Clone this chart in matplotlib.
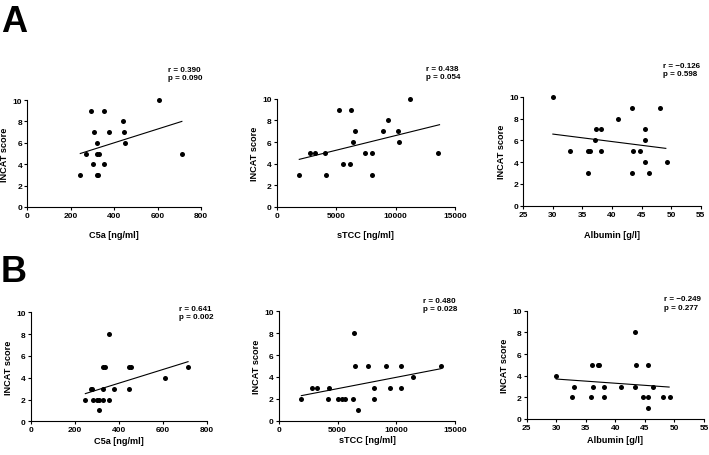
import numpy as np
import matplotlib
matplotlib.use("Agg")
import matplotlib.pyplot as plt

plt.rcParams['font.family'] = ['Liberation Sans', 'DejaVu Sans']
plt.rcParams['font.weight'] = 'bold'

# C5a vs INCAT (A: baseline, B: follow-up)
c5a_a_x = [245, 292, 271, 302, 309, 323, 320, 331, 323, 328, 355, 352, 375, 442, 448, 451, 608, 712]
c5a_a_y = [3, 9, 5, 4, 7, 6, 5, 5, 3, 3, 9, 4, 7, 8, 7, 6, 10, 5]
c5a_b_x = [248, 272, 276, 281, 299, 309, 309, 326, 326, 329, 338, 356, 356, 377, 444, 447, 453, 608, 714]
c5a_b_y = [2, 3, 3, 2, 2, 2, 1, 2, 5, 3, 5, 2, 8, 3, 3, 5, 5, 4, 5]

# sTCC vs INCAT
stcc_a_x = [1850, 2800, 3200, 4070, 4180, 5240, 5580, 6170, 6280, 6390, 6620, 7460, 7990, 7990,
            8940, 9340, 10230, 10290, 11240, 13540]
stcc_a_y = [3, 5, 5, 5, 3, 9, 4, 4, 9, 6, 7, 5, 5, 3, 7, 8, 7, 6, 10, 5]
stcc_b_x = [1925, 2830, 3280, 4160, 4270, 5040, 5380, 5660, 6280, 6400, 6510, 6760, 7610, 8120,
            8120, 9090, 9480, 10420, 10420, 11380, 13760]
stcc_b_y = [2, 3, 3, 2, 3, 2, 2, 2, 2, 8, 5, 1, 5, 3, 2, 5, 3, 5, 3, 4, 5]

# Albumin vs INCAT
alb_a_x = [30.0, 32.95, 36.0, 36.3, 36.0, 37.1, 37.3, 38.2, 38.2, 41.0, 43.4, 43.3, 43.6, 44.7,
           45.5, 45.5, 45.6, 46.3, 48.1, 49.3]
alb_a_y = [10, 5, 5, 5, 3, 6, 7, 7, 5, 8, 9, 3, 5, 5, 7, 6, 4, 3, 9, 4]
alb_b_x = [29.96, 32.7, 32.95, 35.9, 36.05, 36.3, 37.0, 37.2, 38.1, 38.1, 41.0, 43.3, 43.4, 43.55,
           44.7, 45.5, 45.5, 45.5, 46.3, 48.1, 49.2]
alb_b_y = [4, 2, 3, 2, 5, 3, 5, 5, 3, 2, 3, 3, 8, 5, 2, 5, 2, 1, 3, 2, 2]

# regression line end points
fit_c5a_a = ([245, 712], [5.0, 8.0])
fit_c5a_b = ([248, 714], [2.54, 5.47])
fit_stcc_a = ([1900, 13700], [4.4, 7.6])
fit_stcc_b = ([1925, 13760], [2.29, 4.75])
fit_alb_a = ([30.0, 49.1], [6.57, 5.26])
fit_alb_b = ([30.0, 49.1], [3.69, 2.95])

stats = ["r = 0.390\np = 0.090", "r = 0.438\np = 0.054", "r = \u22120.126\np = 0.598",
         "r = 0.641\np = 0.002", "r = 0.480\np = 0.028", "r = \u22120.249\np = 0.277"]
xlabels = ["C5a [ng/ml]", "sTCC [ng/ml]", "Albumin [g/l]"]

W, H = 709, 456
fig = plt.figure(figsize=(W / 100, H / 100), dpi=100)

# axes boxes in pixels: left, right, bottom, top
boxes = [(27, 201, 208, 101), (276.7, 455, 208, 99.7), (523.3, 700.7, 206.7, 97.7),
         (30.7, 207, 422.3, 313.3), (278.7, 455.3, 421.7, 312.3), (526.7, 704, 420, 311.7)]
stat_pos = [(0.81, 1.25), (0.84, 1.24), (0.79, 1.25),
            (0.84, 1.0), (0.815, 1.065), (0.775, 1.07)]
xlabel_y = [236, 236, 236, 441, 441, 441]

panels = [
    (c5a_a_x, c5a_a_y, fit_c5a_a, (0, 800), np.arange(0, 801, 200)),
    (stcc_a_x, stcc_a_y, fit_stcc_a, (0, 15000), np.arange(0, 15001, 5000)),
    (alb_a_x, alb_a_y, fit_alb_a, (25, 55), np.arange(25, 56, 5)),
    (c5a_b_x, c5a_b_y, fit_c5a_b, (0, 800), np.arange(0, 801, 200)),
    (stcc_b_x, stcc_b_y, fit_stcc_b, (0, 15000), np.arange(0, 15001, 5000)),
    (alb_b_x, alb_b_y, fit_alb_b, (25, 55), np.arange(25, 56, 5)),
]

for i, (xs, ys, fit, xlim, xt) in enumerate(panels):
    l, r, b, t = boxes[i]
    ax = fig.add_axes([l / W, 1 - b / H, (r - l) / W, (b - t) / H])
    ax.scatter(xs, ys, s=13, color='black', zorder=3, linewidths=0, clip_on=False)
    ax.plot(fit[0], fit[1], color='black', lw=0.8)
    ax.set_xlim(*xlim)
    ax.set_ylim(0, 10)
    ax.set_xticks(xt)
    ax.set_yticks(np.arange(0, 11, 2))
    for s in ['top', 'right']:
        ax.spines[s].set_visible(False)
    for s in ['left', 'bottom']:
        ax.spines[s].set_linewidth(0.8)
    ax.tick_params(length=2.5, width=0.8, labelsize=6, pad=1)
    for lab in ax.get_xticklabels() + ax.get_yticklabels():
        lab.set_fontweight('bold')
    ax.set_xlabel(xlabels[i % 3], fontsize=6.6, fontweight='bold')
    ax.xaxis.label.set_va('center')
    ax.xaxis.set_label_coords(0.5, (b - xlabel_y[i]) / (b - t))
    ax.set_ylabel("INCAT score", fontsize=6.6, fontweight='bold')
    ax.yaxis.label.set_va('center')
    ax.yaxis.set_label_coords(-22 / (r - l), 0.5)
    sx, sy = stat_pos[i]
    ax.text(sx, sy, stats[i], transform=ax.transAxes, fontsize=5.8, fontweight='bold',
            ha='left', va='center', linespacing=1.25)

fig.text(1 / W, 1 - 22 / H, "A", fontsize=26, fontweight='bold', va='center', ha='left')
fig.text(1 / W, 1 - 273 / H, "B", fontsize=26, fontweight='bold', va='center', ha='left')

fig.savefig("out.png", dpi=100)
